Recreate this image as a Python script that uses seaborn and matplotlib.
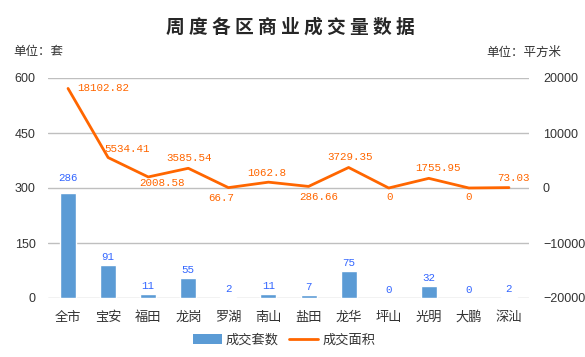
import numpy as np
import pandas as pd
import matplotlib
matplotlib.use("Agg")
import matplotlib.pyplot as plt
import seaborn as sns
from matplotlib.patches import Patch
from matplotlib.lines import Line2D

# ---- data ----
districts = ["全市", "宝安", "福田", "龙岗", "罗湖", "南山", "盐田", "龙华", "坪山", "光明", "大鹏", "深汕"]
units = [286, 91, 11, 55, 2, 11, 7, 75, 0, 32, 0, 2]
area = [18102.82, 5534.41, 2008.58, 3585.54, 66.7, 1062.8, 286.66, 3729.35, 0, 1755.95, 0, 73.03]
area_labels = ["18102.82", "5534.41", "2008.58", "3585.54", "66.7", "1062.8", "286.66",
               "3729.35", "0", "1755.95", "0", "73.03"]
left_ticks = [0, 150, 300, 450, 600]
right_ticks = [-20000, -10000, 0, 10000, 20000]
title = "周度各区商业成交量数据"
left_unit = "单位：套"
right_unit = "单位：平方米"
series_names = ["成交套数", "成交面积"]

BAR_C = "#5B9BD5"
LINE_C = "#FF6600"
BLUE_TXT = "#3366FF"
TXT = "#333333"

sns.set_style("white")
plt.rcParams["font.family"] = ["Noto Sans CJK SC", "DejaVu Sans"]

fig = plt.figure(figsize=(5.85, 3.57), dpi=100)
ax = fig.add_axes([48 / 585, 1 - 298 / 357, 481 / 585, 220 / 357])

df = pd.DataFrame({"区": districts, "套数": units, "面积": area, "pos": np.arange(len(districts))})

sns.barplot(data=df, x="区", y="套数", color=BAR_C, width=0.4, saturation=1, ax=ax, zorder=3)
ax.set_xlim(-0.5, len(districts) - 0.5)
ax.set_ylim(0, 600)
ax.set_yticks(left_ticks)
ax.set_xlabel("")
ax.set_ylabel("")
ax.grid(axis="y", color="#BFBFBF", linewidth=1, zorder=0)
ax.set_axisbelow(True)
for s in ["left", "right", "top", "bottom"]:
    ax.spines[s].set_visible(False)
ax.tick_params(axis="both", length=0)
ax.tick_params(axis="y", pad=9, labelsize=9, labelcolor=TXT)
ax.tick_params(axis="x", pad=9, labelsize=9.5, labelcolor=TXT)
for t in ax.get_yticklabels():
    t.set_fontfamily(["Liberation Sans", "DejaVu Sans"])

# bar labels
for i, v in enumerate(units):
    dy = 15 if i == 0 else 8
    ax.annotate(str(v), (i, v), xytext=(0, dy), textcoords="offset pixels",
                ha="center", va="center", color=BLUE_TXT, fontsize=7.8,
                fontfamily=["Liberation Mono", "DejaVu Sans Mono"], zorder=5)

ax2 = ax.twinx()
sns.lineplot(data=df, x="pos", y="面积", color=LINE_C, linewidth=2, ax=ax2, zorder=4)
ax2.set_ylim(-20000, 20000)
ax2.set_yticks(right_ticks)
ax2.set_xlim(-0.5, len(districts) - 0.5)
ax2.set_xlabel("")
ax2.set_ylabel("")
for s in ["left", "right", "top", "bottom"]:
    ax2.spines[s].set_visible(False)
ax2.tick_params(axis="both", length=0)
ax2.tick_params(axis="y", pad=10, labelsize=9, labelcolor=TXT)
for t in ax2.get_yticklabels():
    t.set_fontfamily(["Liberation Sans", "DejaVu Sans"])

# line label offsets (pixels)
offs = [(9, 0, "left"), (-4, 9, "left"), (14, -6, "center"), (1, 10, "center"),
        (-7, -10, "center"), (-2, 9, "center"), (10, -11, "center"), (1, 10, "center"),
        (1, -9, "center"), (9, 10, "center"), (0, -9, "center"), (4, 10, "center")]
for i, (v, lab) in enumerate(zip(area, area_labels)):
    dx, dy, ha = offs[i]
    ax2.annotate(lab, (i, v), xytext=(dx, dy), textcoords="offset pixels",
                 ha=ha, va="center", color=LINE_C, fontsize=7.8,
                 fontfamily=["Liberation Mono", "DejaVu Sans Mono"], zorder=6)

fig.text(0.496, 1 - 27 / 357, " ".join(title), ha="center", va="center",
         fontsize=13.5, fontweight="bold", color="#262626")
fig.text(13 / 585, 1 - 52 / 357, left_unit, ha="left", va="center", fontsize=9, color=TXT)
fig.text(561 / 585, 1 - 52 / 357, right_unit, ha="right", va="center", fontsize=9, color=TXT)

handles = [Patch(facecolor=BAR_C, edgecolor="none"),
           Line2D([0], [0], color=LINE_C, linewidth=2)]
fig.legend(handles, series_names, loc="center", bbox_to_anchor=(284 / 585, 1 - 340 / 357),
           ncol=2, frameon=False, fontsize=9.5, handlelength=2.2, handletextpad=0.3,
           columnspacing=0.8, labelcolor=TXT)

fig.savefig("out.png", dpi=100)
